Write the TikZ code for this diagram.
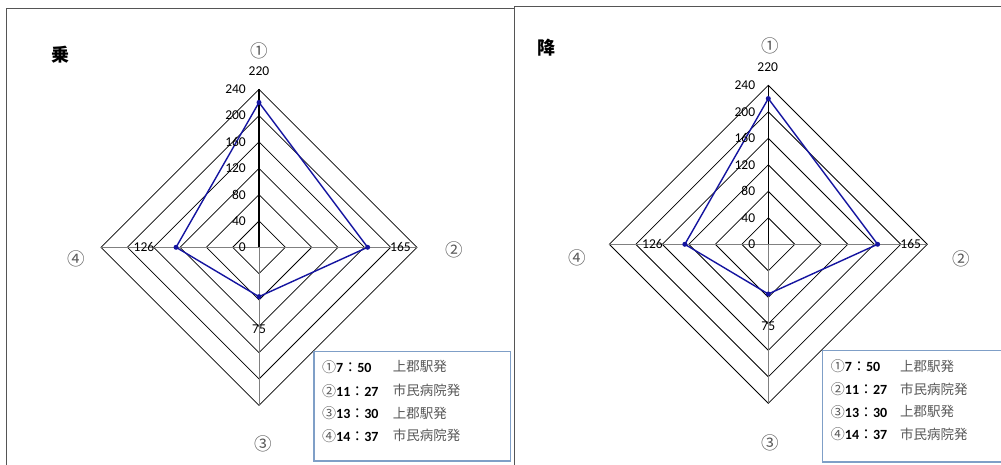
\documentclass[tikz,border=0pt]{standalone}
\usepackage{fontspec}
\setmainfont{Carlito}
\newfontfamily\jp{Noto Sans CJK JP}
\definecolor{framegray}{RGB}{85,85,85}
\definecolor{datablue}{RGB}{20,20,160}
\definecolor{legblue}{RGB}{127,159,199}
\definecolor{txtgray}{RGB}{89,89,89}
\tikzset{
 ring/.style={draw=black,line width=0.75pt},
 spoke/.style={draw=gray,line width=0.6pt},
 valaxis/.style={draw=black,line width=1.1pt},
 series/.style={draw=datablue,line width=1.4pt,line join=round},
 marker/.style={circle,fill=datablue,inner sep=0pt,minimum size=5pt},
 ticklab/.style={font=\fontsize{13.5}{14}\selectfont,inner sep=0pt,anchor=east},
 datalab/.style={font=\fontsize{13.5}{14}\selectfont,inner sep=0pt},
 catlab/.style={font=\jp\fontsize{17.5}{18}\selectfont,text=txtgray,inner sep=0pt},
 titlelab/.style={font=\jp\bfseries\fontsize{18}{19}\selectfont,inner sep=0pt},
 legbox/.style={draw=legblue,line width=1.1pt},
 legnum/.style={font=\bfseries\fontsize{14}{15}\selectfont,inner sep=0pt,anchor=west},
 legjp/.style={font=\jp\fontsize{13.5}{14}\selectfont,text=txtgray,inner sep=0pt,anchor=west},
 panel/.style={draw=framegray,line width=1pt},
}
\newcommand\circnum[1]{{\jp\mdseries\color{txtgray}#1}}
\newcommand\fwcolon{{\jp\mdseries ：}}
\newcommand\radarpanel[4]{%
 \coordinate (#1c) at (#2,#3);
 \coordinate (#1top) at (#2,#3-#4);
 \coordinate (#1right) at (#2+#4,#3);
 \coordinate (#1bot) at (#2,#3+#4);
 \coordinate (#1left) at (#2-#4,#3);
 \foreach \k in {1,...,6}{
   \pgfmathsetmacro\rr{\k*#4/6}
   \draw[ring] (#2,#3-\rr) -- (#2+\rr,#3) -- (#2,#3+\rr) -- (#2-\rr,#3) -- cycle;
 }
 \draw[spoke] (#1c) -- (#1right);
 \draw[spoke] (#1c) -- (#1bot);
 \draw[spoke] (#1c) -- (#1left);
 \draw[valaxis] (#1c) -- (#1top);
 \coordinate (#1d1) at (#2,#3-220/240*#4);
 \coordinate (#1d2) at (#2+165/240*#4,#3);
 \coordinate (#1d3) at (#2,#3+75/240*#4);
 \coordinate (#1d4) at (#2-126/240*#4,#3);
 \draw[series] (#1d1) -- (#1d2) -- (#1d3) -- (#1d4) -- cycle;
 \node[marker] (#1m1) at (#1d1) {};
 \node[marker] (#1m2) at (#1d2) {};
 \node[marker] (#1m3) at (#1d3) {};
 \node[marker] (#1m4) at (#1d4) {};
 \foreach \v in {0,40,...,240}{
   \node[ticklab] (#1t\v) at (#2-13,#3-\v/240*#4) {\v};
 }
}
\begin{document}
\begin{tikzpicture}[x=1pt,y=-1pt]
\useasboundingbox (0,0) rectangle (1001,465);
\clip (0,0) rectangle (1001,465);
\fill[white] (0,0) rectangle (1001,465);
% panel frames
\draw[panel] (6,470) -- (6,9) -- (514.3,9) -- (514.3,470);
\draw[panel] (514.3,470) -- (514.3,7) -- (1010,7);
% ---------- left chart (boarding) ----------
\radarpanel{L}{259}{247.3}{158}
\node[titlelab] (Ltitle) at (60.3,54.3) {乗};
\node[catlab] (Lc1) at (259,51) {①};
\node[catlab] (Lc2) at (454,250) {②};
\node[catlab] (Lc3) at (263,444) {③};
\node[catlab] (Lc4) at (76,259.3) {④};
\node[datalab] (Lv1) at (259,71) {220};
\node[datalab] (Lv2) at (400.5,247.3) {165};
\node[datalab] (Lv3) at (259,329) {75};
\node[datalab] (Lv4) at (144,247.3) {126};
\draw[legbox] (314,351.7) rectangle (510.7,461);
\node[legnum] (Ll1) at (322,366.7) {\circnum{①}7\fwcolon50};
\node[legjp]  (Lj1) at (392.7,366.7) {上郡駅発};
\node[legnum] (Ll2) at (322,390.7) {\circnum{②}11\fwcolon27};
\node[legjp]  (Lj2) at (392.7,390.7) {市民病院発};
\node[legnum] (Ll3) at (322,413) {\circnum{③}13\fwcolon30};
\node[legjp]  (Lj3) at (392.7,413) {上郡駅発};
\node[legnum] (Ll4) at (322,435.7) {\circnum{④}14\fwcolon37};
\node[legjp]  (Lj4) at (392.7,435.7) {市民病院発};
% ---------- right chart (alighting) ----------
\radarpanel{R}{768.3}{244.3}{159}
\node[titlelab] (Rtitle) at (546,48) {降};
\node[catlab] (Rc1) at (770,46) {①};
\node[catlab] (Rc2) at (961.7,259.3) {②};
\node[catlab] (Rc3) at (770.7,443) {③};
\node[catlab] (Rc4) at (577,257.7) {④};
\node[datalab] (Rv1) at (767.7,66.7) {220};
\node[datalab] (Rv2) at (910.7,244.3) {165};
\node[datalab] (Rv3) at (768.3,326.7) {75};
\node[datalab] (Rv4) at (652.5,244.3) {126};
\draw[legbox] (822.3,350.7) rectangle (1010,462);
\node[legnum] (Rl1) at (830.7,366) {\circnum{①}7\fwcolon50};
\node[legjp]  (Rj1) at (900,366) {上郡駅発};
\node[legnum] (Rl2) at (830.7,389.3) {\circnum{②}11\fwcolon27};
\node[legjp]  (Rj2) at (900,389.3) {市民病院発};
\node[legnum] (Rl3) at (830.7,411.7) {\circnum{③}13\fwcolon30};
\node[legjp]  (Rj3) at (900,411.7) {上郡駅発};
\node[legnum] (Rl4) at (830.7,434) {\circnum{④}14\fwcolon37};
\node[legjp]  (Rj4) at (900,434) {市民病院発};
\end{tikzpicture}
\end{document}
